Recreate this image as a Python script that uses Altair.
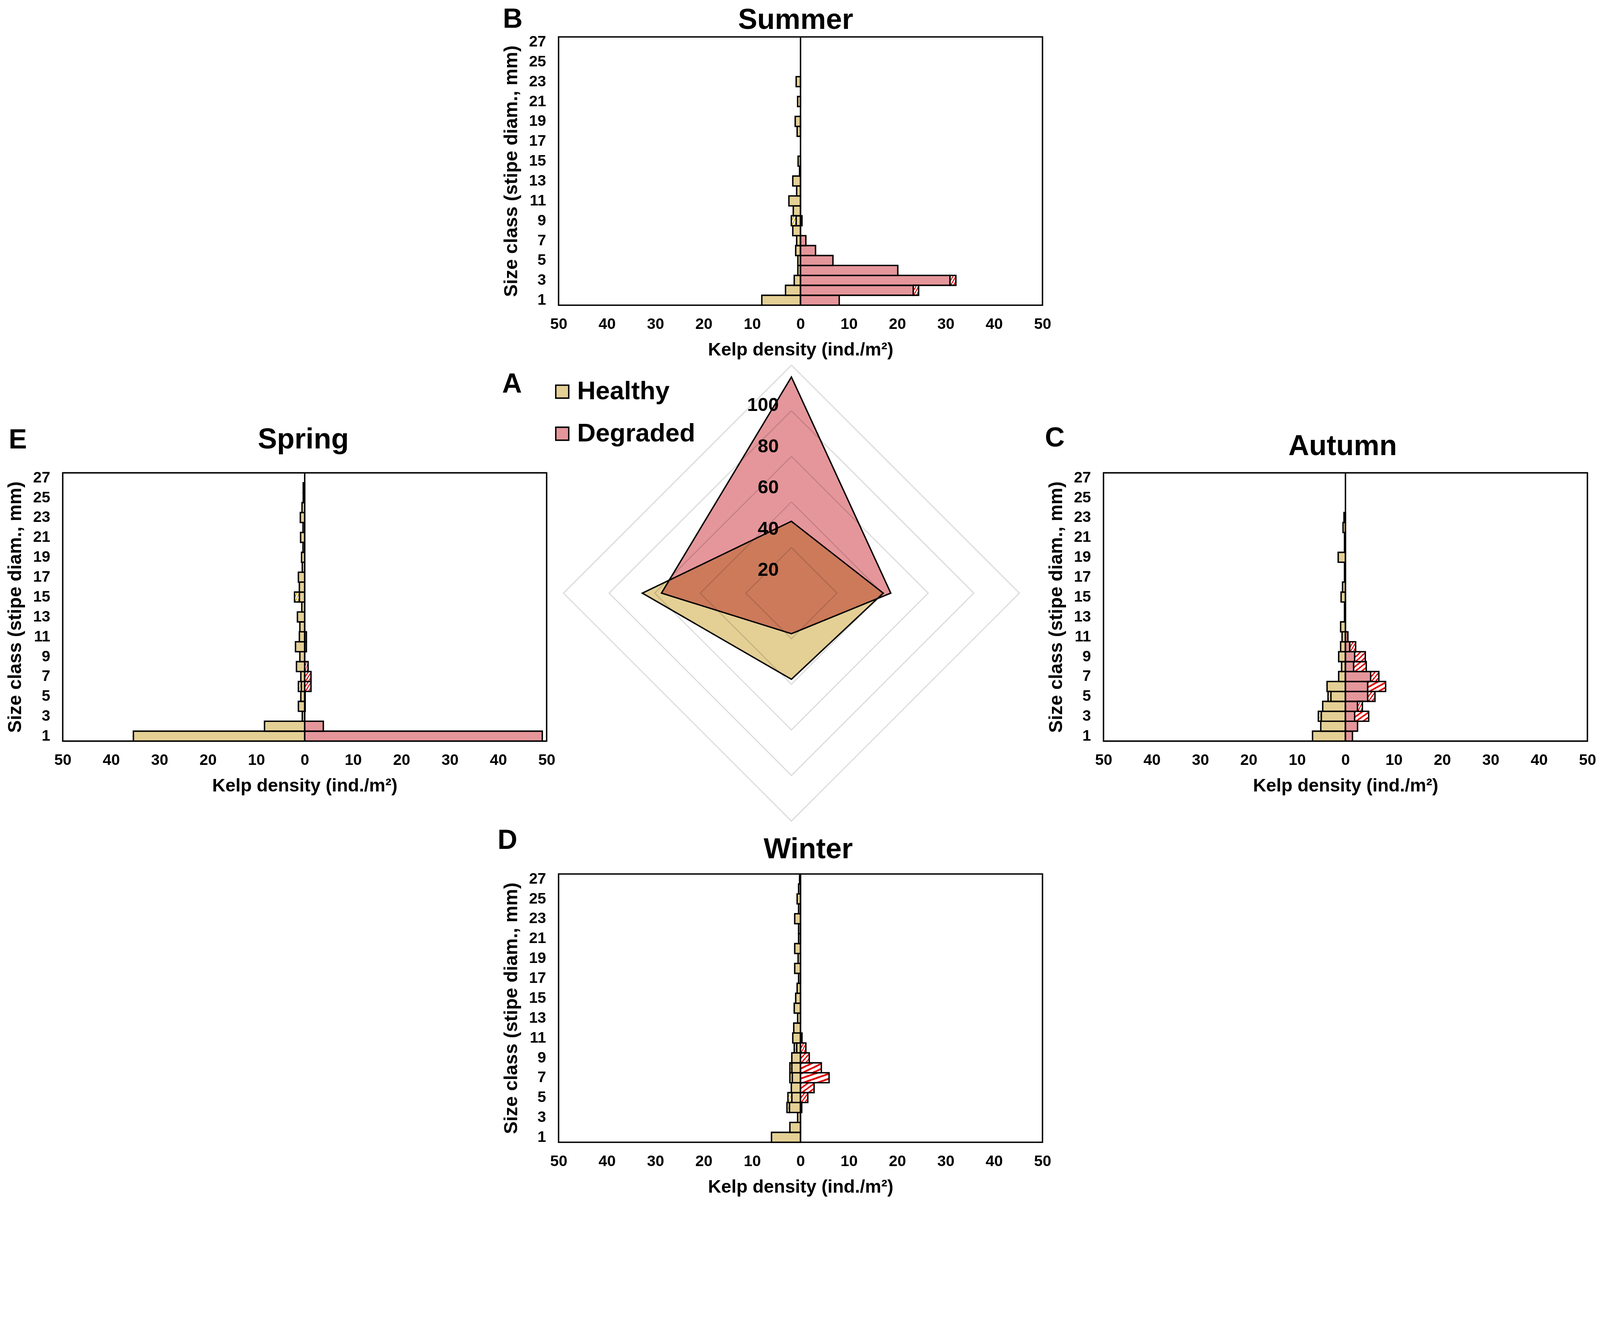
import altair as alt
import pandas as pd

FONT = "Liberation Sans"

# ---------------- data ----------------
classes = list(range(1, 28))
odd_classes = list(range(1, 28, 2))
x_ticks = list(range(-50, 51, 10))

# Summer (B)
summer_healthy = [8.0, 3.1, 1.3, 0.55, 0.55, 1.0, 0.8, 1.6, 0.9, 1.5, 2.4, 0.8, 1.6, 0.2,
                  0.5, 0, 0, 0.7, 1.1, 0, 0.6, 0, 0.9, 0, 0, 0, 0]
summer_healthy_hatch = [0, 0, 0, 0, 0, 0, 0, 0, 1.0, 0, 0, 0, 0, 0,
                        0, 0, 0, 0, 0, 0, 0, 0, 0, 0, 0, 0, 0]
summer_degraded = [8.0, 23.3, 30.9, 20.1, 6.7, 3.1, 1.1, 0, 0.3, 0, 0, 0, 0, 0,
                   0, 0, 0, 0, 0, 0, 0, 0, 0, 0, 0, 0, 0]
summer_degraded_hatch = [0, 1.1, 1.2, 0, 0, 0, 0, 0, 0, 0, 0, 0, 0, 0,
                         0, 0, 0, 0, 0, 0, 0, 0, 0, 0, 0, 0, 0]

# Autumn (C)
autumn_healthy = [6.8, 5.1, 5.0, 4.7, 3.0, 3.8, 1.4, 0.8, 1.4, 1.0, 0.7, 1.0, 0.2, 0.2,
                  0.9, 0.6, 0.2, 0.2, 1.5, 0.2, 0.2, 0.5, 0.3, 0, 0, 0, 0]
autumn_healthy_hatch = [0, 0, 0.6, 0, 0.6, 0, 0, 0, 0, 0, 0, 0, 0, 0,
                        0, 0, 0, 0, 0, 0, 0, 0, 0, 0, 0, 0, 0]
autumn_degraded = [1.45, 2.5, 1.9, 2.5, 4.6, 4.6, 5.2, 1.7, 1.9, 0.9, 0.5, 0, 0, 0,
                   0, 0, 0, 0, 0, 0, 0, 0, 0, 0, 0, 0, 0]
autumn_degraded_hatch = [0, 0, 2.9, 1.0, 1.5, 3.7, 1.7, 2.6, 2.2, 1.2, 0, 0, 0, 0,
                         0, 0, 0, 0, 0, 0, 0, 0, 0, 0, 0, 0, 0]

# Winter (D)
winter_healthy = [6.0, 2.2, 0.6, 2.3, 1.8, 1.9, 1.7, 1.8, 1.8, 0.8, 1.6, 1.4, 0.6, 1.3,
                  1.0, 0.7, 0.4, 1.2, 0.5, 1.2, 0.4, 0.4, 1.2, 0.4, 0.7, 0.4, 0.2]
winter_healthy_hatch = [0, 0, 0, 0.5, 0.8, 0, 0.5, 0.4, 0, 0.5, 0, 0, 0, 0,
                        0, 0, 0, 0, 0, 0, 0, 0, 0, 0, 0, 0, 0]
winter_degraded = [0, 0, 0, 0.25, 0, 0, 0, 0, 0, 0, 0.3, 0, 0, 0,
                   0, 0, 0, 0, 0, 0, 0, 0, 0, 0, 0, 0, 0]
winter_degraded_hatch = [0, 0, 0, 0, 1.5, 2.8, 5.9, 4.3, 1.8, 1.1, 0, 0, 0, 0,
                         0, 0, 0, 0, 0, 0, 0, 0, 0, 0, 0, 0, 0]

# Spring (E)
spring_healthy = [35.4, 8.3, 0.5, 1.3, 0.8, 0.7, 0.8, 1.7, 1.0, 1.9, 1.1, 1.0, 1.5, 0.6,
                  1.1, 1.1, 1.3, 0.5, 0.65, 0.35, 0.85, 0.35, 0.9, 0.55, 0.3, 0.3, 0]
spring_healthy_hatch = [0, 0, 0, 0, 0, 0.6, 0, 0, 0, 0, 0, 0, 0, 0,
                        1.0, 0, 0, 0, 0, 0, 0, 0, 0, 0, 0, 0, 0]
spring_degraded = [49.1, 3.85, 0, 0.1, 0.1, 0, 0, 0, 0, 0.35, 0.35, 0, 0, 0,
                   0, 0, 0, 0, 0, 0, 0, 0, 0, 0, 0, 0, 0]
spring_degraded_hatch = [0, 0, 0, 0, 0, 1.3, 1.3, 0.7, 0, 0, 0, 0, 0, 0,
                         0, 0, 0, 0, 0, 0, 0, 0, 0, 0, 0, 0, 0]

# Radar (A): total density per season (Summer, Autumn, Winter, Spring)
radar_seasons = ["Summer", "Autumn", "Winter", "Spring"]
radar_healthy = [31.5, 40.3, 37.8, 65.4]
radar_degraded = [94.8, 43.6, 17.8, 57.0]
radar_levels = [20, 40, 60, 80, 100]

sites = ["Healthy", "Degraded"]

# ---------------- styles ----------------
TAN = "#E4CF95"
PINK = "#E5969A"
GOLD = "#C9A000"
RED = "#E00000"
W, H = 1380, 765


def stripes(color, n=4, frac=0.38):
    stops = []
    for i in range(n):
        a = i / n
        b = a + frac / n
        c = (i + 1) / n
        stops += [
            alt.GradientStop(offset=a, color=color),
            alt.GradientStop(offset=b, color=color),
            alt.GradientStop(offset=b, color="white"),
            alt.GradientStop(offset=c, color="white"),
        ]
    return alt.LinearGradient(gradient="linear", stops=stops, x1=0, y1=0, x2=1, y2=1)


def season_df(h, hh, d, dh):
    return pd.DataFrame({
        "cls": classes * 4,
        "site": ["Healthy"] * 54 + ["Degraded"] * 54,
        "part": (["a"] * 27 + ["b"] * 27) * 2,
        "value": [-v for v in h] + [-v for v in hh] + list(d) + list(dh),
    })


def text_layer(txt, x, y, size, align):
    return alt.Chart(pd.DataFrame({"t": [txt]})).mark_text(
        align=align, baseline="alphabetic", fontSize=size, fontWeight="bold",
        font=FONT, color="black").encode(x=alt.value(x), y=alt.value(y), text="t:N")


def panel(df, season, letter, title_x, title_y, letter_x, letter_y):
    xs = alt.Scale(domain=[-50, 50], nice=False, zero=False)
    xax = alt.Axis(values=x_ticks, labelExpr="'' + abs(datum.value)",
                   title="Kelp density (ind./m²)", ticks=False, tickSize=0,
                   domain=False, grid=False, labelPadding=32, titlePadding=26,
                   labelFontSize=44, titleFontSize=52, labelFont=FONT, titleFont=FONT,
                   labelFontWeight="bold", titleFontWeight="bold",
                   labelColor="black", titleColor="black",
                   labelFlush=False, labelOverlap=False)
    yax = alt.Axis(values=odd_classes, title="Size class (stipe diam., mm)",
                   ticks=False, tickSize=0, domain=False, grid=False,
                   labelPadding=36, titlePadding=23, labelAngle=0,
                   labelFontSize=44, titleFontSize=54, labelFont=FONT, titleFont=FONT,
                   labelFontWeight="bold", titleFontWeight="bold",
                   labelColor="black", titleColor="black")
    ys = alt.Scale(domain=list(range(27, 0, -1)), paddingInner=0, paddingOuter=0)
    X = alt.X("x0:Q", scale=xs, axis=xax)
    Y = alt.Y("cls:O", scale=ys, axis=yax)

    base = alt.Chart(df).transform_filter("datum.value != 0").transform_stack(
        stack="value", groupby=["cls", "site"], as_=["x0", "x1"],
        sort=[alt.SortField(field="part", order="ascending")])

    solid = base.transform_filter("datum.part == 'a'").mark_bar(
        stroke="black", strokeWidth=4).encode(
        x=X, x2="x1:Q", y=Y,
        color=alt.Color("site:N", scale=alt.Scale(domain=sites, range=[TAN, PINK]), legend=None))
    hatch_h = base.transform_filter("datum.part == 'b' && datum.site == 'Healthy'").mark_bar(
        fill=stripes(GOLD), stroke="black", strokeWidth=4).encode(x=X, x2="x1:Q", y=Y)
    hatch_d = base.transform_filter("datum.part == 'b' && datum.site == 'Degraded'").mark_bar(
        fill=stripes(RED), stroke="black", strokeWidth=4).encode(x=X, x2="x1:Q", y=Y)
    zero = alt.Chart(pd.DataFrame({"x0": [0]})).mark_rule(
        color="black", strokeWidth=4).encode(x=X)
    lt = text_layer(letter, letter_x, letter_y, 78, "left")
    tt = text_layer(season, title_x, title_y, 82, "center")

    return alt.layer(solid, hatch_h, hatch_d, zero, lt, tt).properties(
        width=W, height=H,
        view=alt.ViewBackground(stroke="black", strokeWidth=4),
    )


summer = panel(season_df(summer_healthy, summer_healthy_hatch, summer_degraded, summer_degraded_hatch),
               "Summer", "B", 676, -23, -159, -26)
autumn = panel(season_df(autumn_healthy, autumn_healthy_hatch, autumn_degraded, autumn_degraded_hatch),
               "Autumn", "C", 682, -50, -167, -75)
winter = panel(season_df(winter_healthy, winter_healthy_hatch, winter_degraded, winter_degraded_hatch),
               "Winter", "D", 712, -45, -174, -72)
spring = panel(season_df(spring_healthy, spring_healthy_hatch, spring_degraded, spring_degraded_hatch),
               "Spring", "E", 686, -70, -154, -70)

# ---------------- radar ----------------
RW, RH = 1554, 1144
rx = alt.Scale(domain=[-102.15, 136.92], nice=False, zero=False)
ry = alt.Scale(domain=[-123.23, 52.77], nice=False, zero=False)

grid_df = pd.DataFrame([{"level": lv, "k": k} for lv in radar_levels for k in range(5)])
grid = alt.Chart(grid_df).transform_calculate(
    gx="datum.level * sin(datum.k * PI / 2)",
    gy="datum.level * cos(datum.k * PI / 2)",
).mark_line(color="#D9D9D9", strokeWidth=3).encode(
    x=alt.X("gx:Q", scale=rx, axis=None),
    y=alt.Y("gy:Q", scale=ry, axis=None),
    detail="level:N", order="k:Q")


def radar_rows(site, vals):
    s, a, w, sp = vals
    return [
        {"site": site, "ax": -sp, "ay": 0, "ay2": 0},
        {"site": site, "ax": 0, "ay": s, "ay2": -w},
        {"site": site, "ax": a, "ay": 0, "ay2": 0},
    ]


area_df = pd.DataFrame(radar_rows("Healthy", radar_healthy) + radar_rows("Degraded", radar_degraded))

legend = alt.Legend(title=None, orient="none", legendX=-26, legendY=-268,
                    symbolType="square", symbolSize=1370, symbolStrokeColor="black",
                    symbolStrokeWidth=4, symbolOpacity=1, labelLimit=1000,
                    labelFontSize=73, labelFont=FONT, labelFontWeight="bold",
                    labelColor="black", labelOffset=6, rowPadding=46, padding=0)
rcolor = alt.Color("site:N", scale=alt.Scale(domain=sites, range=[TAN, PINK]), legend=legend)


def radar_area(site):
    return alt.Chart(area_df).transform_filter(f"datum.site == '{site}'").mark_area(
        stroke="black", strokeWidth=4, blend="multiply", opacity=1).encode(
        x=alt.X("ax:Q", scale=rx, axis=None),
        y=alt.Y("ay:Q", scale=ry, axis=None, stack=None),
        y2="ay2:Q", color=rcolor)


labels = alt.Chart(pd.DataFrame({"v": radar_levels})).transform_calculate(
    pos="0.904 * datum.v - 8.1", zx="0").mark_text(
    align="right", baseline="middle", dx=-36, fontSize=54, fontWeight="bold",
    font=FONT, color="black").encode(
    x=alt.X("zx:Q", scale=rx, axis=None),
    y=alt.Y("pos:Q", scale=ry, axis=None),
    text="v:Q")

letterA = text_layer("A", -161, -229, 78, "left")

radar = alt.layer(grid, radar_area("Healthy"), radar_area("Degraded"), labels, letterA).properties(
    width=RW, height=RH, view=alt.ViewBackground(stroke="transparent"))


def spacer(w, h):
    return alt.Chart(pd.DataFrame({"s": [0]})).mark_point(opacity=0).properties(
        width=w, height=h, view=alt.ViewBackground(stroke="transparent"))


cells = [
    spacer(1414, 1243), summer, spacer(1, 1),
    spring, radar, autumn,
    spacer(1, 1), winter,
]

chart = alt.concat(*cells, columns=3, spacing=0, bounds="flush", align="each").properties(
    padding={"left": 6, "right": 0, "top": -170, "bottom": -150}
).resolve_scale(color="independent").resolve_legend(color="independent").configure_view(
    stroke="transparent").configure(font=FONT)

chart.save("out.html", embed_options={"renderer": "svg", "actions": False})
